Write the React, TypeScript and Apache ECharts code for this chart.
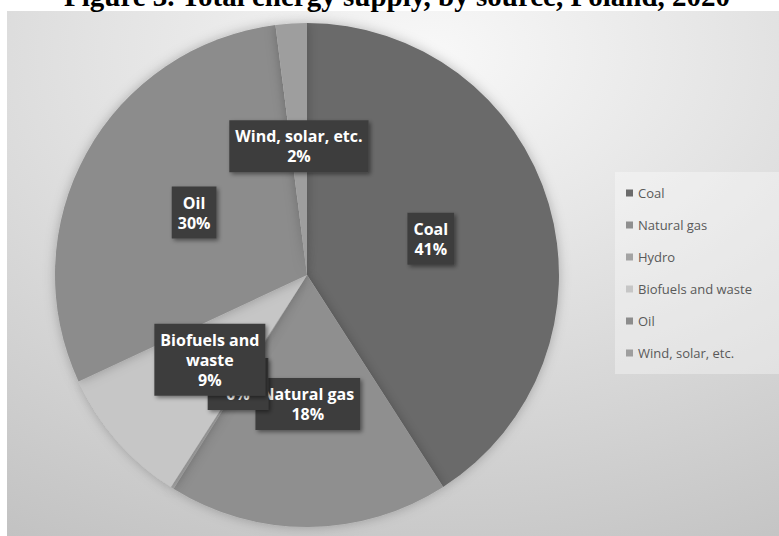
import React, { useEffect, useRef } from "react";
import * as echarts from "echarts";

const titleText = "Figure 3. Total energy supply, by source, Poland, 2020";
const categories = ["Coal", "Natural gas", "Hydro", "Biofuels and waste", "Oil", "Wind, solar, etc."];
const values = [41, 18, 0.2, 9, 30, 2];
const sliceColors = ["#6b6b6b", "#8f8f8f", "#a3a3a3", "#c6c6c6", "#8c8c8c", "#9e9e9e"];

export default function App() {
  const ref = useRef<HTMLDivElement>(null);
  useEffect(() => {
    if (!ref.current) return;
    const chart = echarts.init(ref.current, undefined, { renderer: "svg" });
    const data = categories.map((name, i) => {
      const item: any = { name, value: values[i], itemStyle: { color: sliceColors[i] } };
      if (name === "Biofuels and waste") {
        item.label = { formatter: "Biofuels and\nwaste\n{d}%" };
      }
      return item;
    });
    chart.setOption({
      animation: false,
      backgroundColor: "#ffffff",
      graphic: [
        {
          type: "rect",
          z: -10,
          shape: { x: 7, y: 11, width: 772, height: 525 },
          style: {
            fill: {
              type: "radial",
              x: 0.55,
              y: 0.08,
              r: 1.17,
              colorStops: [
                { offset: 0, color: "#f8f8f8" },
                { offset: 0.35, color: "#e4e4e4" },
                { offset: 1, color: "#bdbdbd" },
              ],
            },
          },
        },
        {
          type: "text",
          z: -5,
          x: 397,
          y: 10,
          style: {
            text: titleText,
            font: 'bold 29px "Liberation Serif"',
            fill: "#000000",
            textAlign: "center",
            textVerticalAlign: "bottom",
          },
        },
      ],
      legend: {
        orient: "vertical",
        left: 615,
        top: 172,
        padding: [14, 40, 14, 11],
        backgroundColor: "rgba(255,255,255,0.35)",
        itemWidth: 7,
        itemHeight: 7,
        itemGap: 18,
        icon: "rect",
        data: categories,
        textStyle: { color: "#595959", fontSize: 13, fontFamily: "Open Sans", lineHeight: 14 },
      },
      series: [
        {
          type: "pie",
          center: [307, 275],
          radius: 252,
          startAngle: 90,
          clockwise: true,
          percentPrecision: 0,
          avoidLabelOverlap: false,
          minShowLabelAngle: 0,
          emphasis: { disabled: true },
          itemStyle: { shadowBlur: 12, shadowColor: "rgba(0,0,0,0.25)" },
          label: {
            show: true,
            position: "inside",
            formatter: "{b}\n{d}%",
            color: "#ffffff",
            fontFamily: "Open Sans",
            fontWeight: "bold",
            fontSize: 16,
            lineHeight: 20,
            backgroundColor: "#3e3e3e",
            padding: [6, 6],
            shadowBlur: 4,
            shadowColor: "rgba(0,0,0,0.45)",
            shadowOffsetX: 2,
            shadowOffsetY: 2,
          },
          labelLine: { show: false },
          labelLayout: { hideOverlap: false },
          data,
        },
      ],
    });
    return () => chart.dispose();
  }, []);
  return (
    <div
      ref={ref}
      style={{ position: "fixed", left: 0, top: 0, width: 779, height: 536 }}
    />
  );
}
